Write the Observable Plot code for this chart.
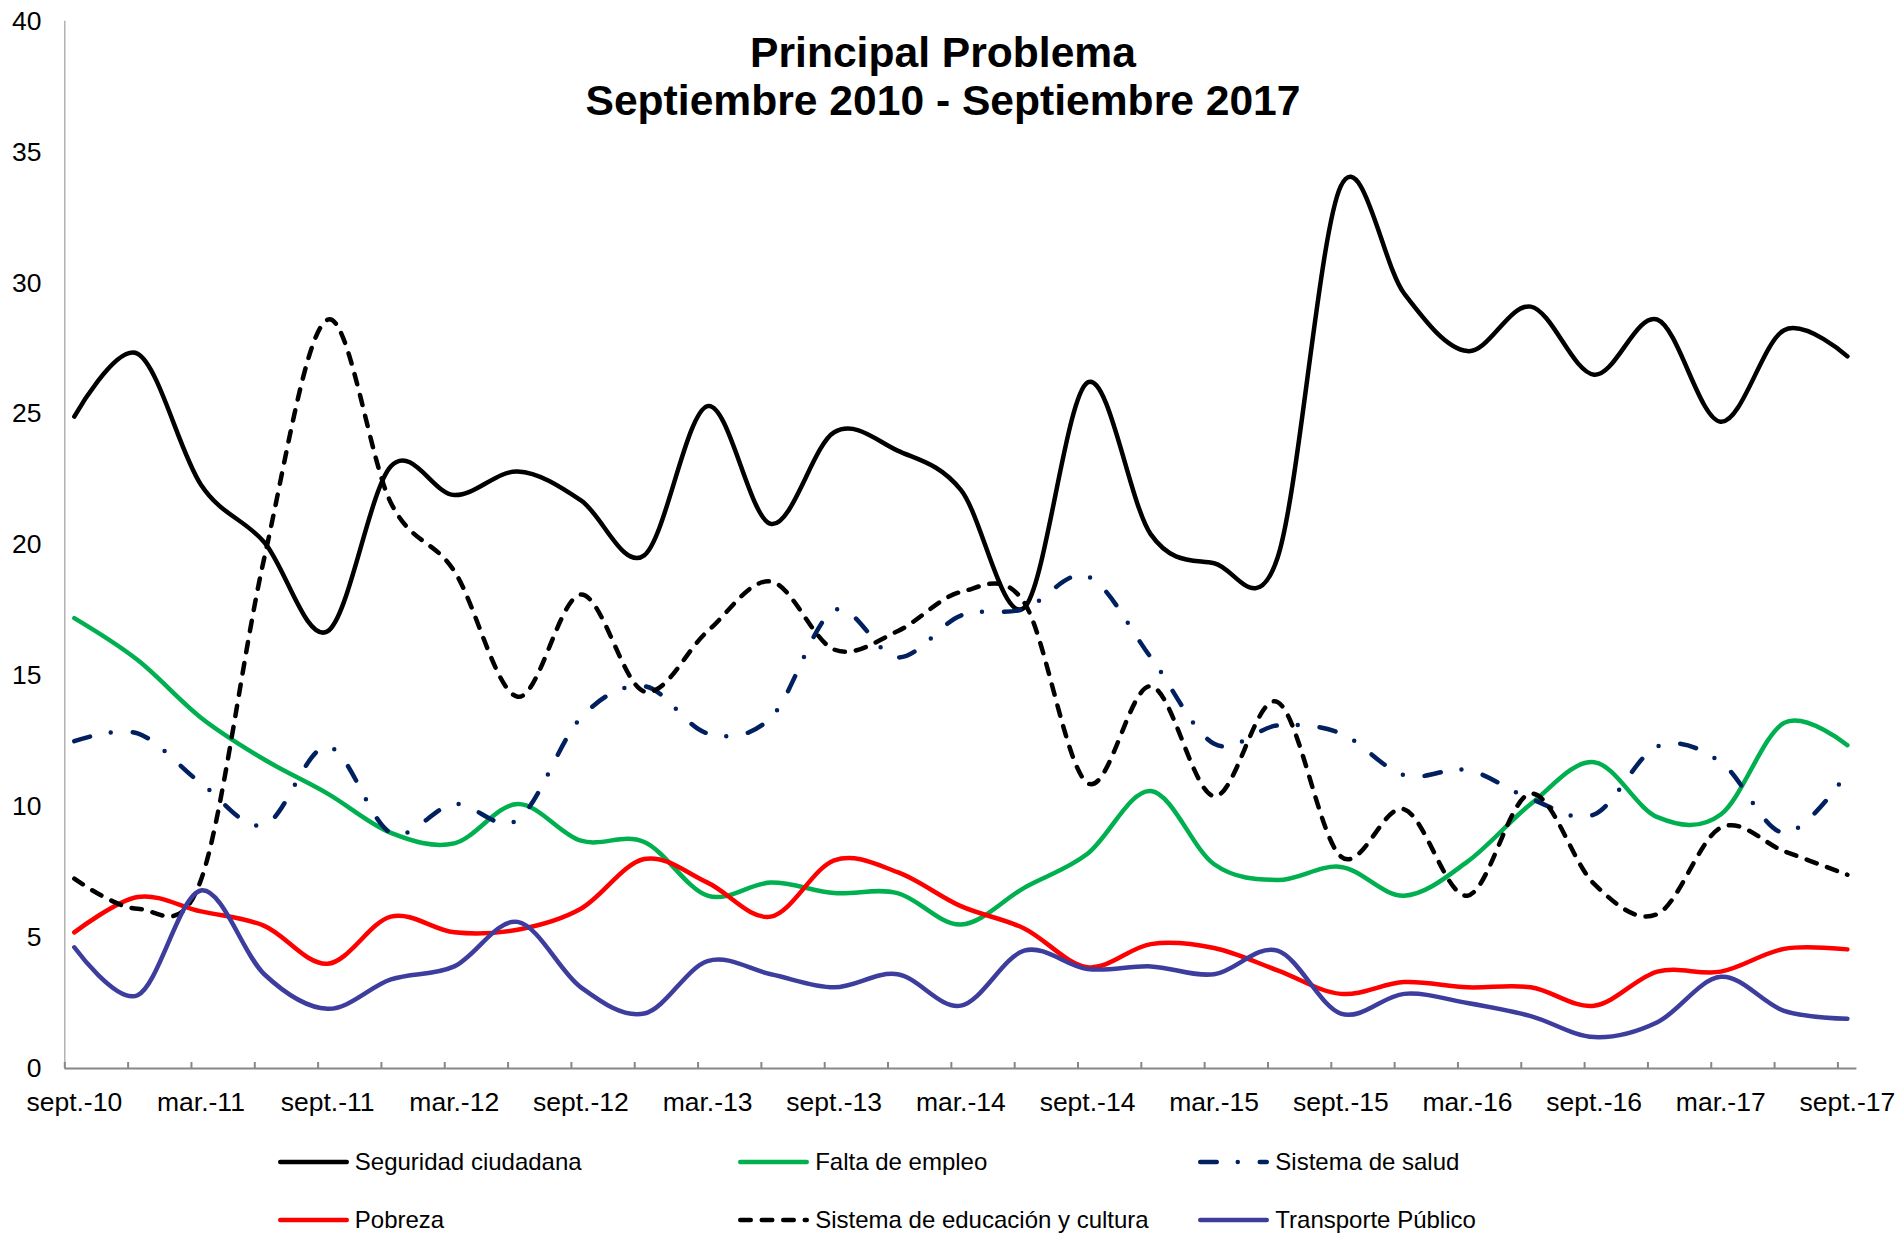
<!DOCTYPE html>
<html>
<head>
<meta charset="utf-8">
<script src="https://cdn.jsdelivr.net/npm/d3@7"></script>
<script src="https://cdn.jsdelivr.net/npm/@observablehq/plot@0.6"></script>
<style>
html, body { margin: 0; padding: 0; background: #fff; }
#wrap { position: relative; width: 1899px; height: 1234px; font-family: "Liberation Sans", Arial, sans-serif; color: #000; }
#title { position: absolute; left: 443px; width: 1000px; top: 27.5px; text-align: center; font-weight: bold; font-size: 42.6px; line-height: 48px; }
.leg { position: absolute; display: flex; align-items: center; height: 30px; font-size: 24px; white-space: nowrap; }
.leg svg { display: block; margin-right: 6px; }
</style>
</head>
<body>
<div id="wrap">
  <div id="chart"></div>
  <div id="title">Principal Problema<br>Septiembre 2010 - Septiembre 2017</div>
  <div id="legend"></div>
</div>
<script>
// ---- Data (quarterly, % of mentions) ----
const quarters = ["sept.-10","dic.-10","mar.-11","jun.-11","sept.-11","dic.-11","mar.-12","jun.-12",
  "sept.-12","dic.-12","mar.-13","jun.-13","sept.-13","dic.-13","mar.-14","jun.-14","sept.-14","dic.-14",
  "mar.-15","jun.-15","sept.-15","dic.-15","mar.-16","jun.-16","sept.-16","dic.-16","mar.-17","jun.-17","sept.-17"];

const seriesNames = ["Seguridad ciudadana","Falta de empleo","Sistema de salud","Pobreza","Sistema de educación y cultura","Transporte Público"];

const seguridad  = [24.9,27.3,22.3,20.1,16.7,23.0,21.9,22.8,21.7,19.6,25.3,20.8,24.3,23.6,22.1,17.6,26.2,20.4,19.3,19.5,33.7,29.6,27.4,29.1,26.5,28.6,24.7,28.2,27.2];
const empleo     = [17.2,15.6,13.4,11.8,10.5,9.0,8.6,10.1,8.7,8.65,6.6,7.1,6.7,6.7,5.5,6.9,8.2,10.6,7.8,7.2,7.7,6.6,7.9,10.1,11.7,9.6,9.7,13.2,12.35];
const salud      = [12.5,12.8,10.9,9.3,12.3,9.0,10.1,9.5,13.4,14.6,12.8,13.4,17.5,15.7,17.3,17.55,18.8,15.7,12.4,13.1,12.8,11.2,11.4,10.3,9.7,12.3,11.7,9.0,11.3];
const pobreza    = [5.2,6.55,6.0,5.45,4.0,5.8,5.2,5.3,6.1,8.0,7.1,5.8,7.95,7.5,6.2,5.35,3.87,4.75,4.6,3.75,2.85,3.3,3.1,3.1,2.4,3.7,3.7,4.57,4.55];
const educacion  = [7.25,6.1,7.2,19.5,28.6,21.6,19.0,14.2,18.1,14.4,16.7,18.6,16.0,16.7,18.2,17.8,10.9,14.6,10.4,14.0,8.1,9.9,6.6,10.5,7.05,5.9,9.2,8.3,7.4];
const transporte = [4.63,2.8,6.8,3.6,2.28,3.4,3.9,5.6,3.1,2.1,4.1,3.6,3.1,3.6,2.4,4.5,3.8,3.9,3.6,4.5,2.1,2.85,2.5,2.0,1.2,1.77,3.5,2.2,1.9];

const yTicks = [0,5,10,15,20,25,30,35,40];

// ---- Styling ----
const seriesValues = [seguridad, empleo, salud, pobreza, educacion, transporte];
const styles = {
  "Seguridad ciudadana":            {color: "#000000", dash: null},
  "Falta de empleo":                {color: "#00B050", dash: null},
  "Sistema de salud":               {color: "#002060", dash: "16.5,21,0,22"},
  "Pobreza":                        {color: "#FF0000", dash: null},
  "Sistema de educación y cultura": {color: "#000000", dash: "10.5,11"},
  "Transporte Público":             {color: "#3D3D9E", dash: null}
};

const rows = [];
seriesNames.forEach((name, s) => seriesValues[s].forEach((v, i) => rows.push({serie: name, q: i, v})));

const W = 1899, H = 1234;
const mLeft = 64.3, mRight = W - 1856.4, mTop = 20.7, mBottom = H - 1068;
const frameH = H - mTop - mBottom;
const xDomain = [-0.15, quarters.length - 1 + 0.15];
const tickOffset = -0.15;               // tick marks sit at month starts
const quarterIdx = quarters.map((_, i) => i);
const labelIdx = quarterIdx.filter(i => i % 2 === 0);
const lineW = 4.5;

const chart = Plot.plot({
  width: W,
  height: H,
  marginLeft: mLeft,
  marginRight: mRight,
  marginTop: mTop,
  marginBottom: mBottom,
  style: {fontFamily: '"Liberation Sans", Arial, sans-serif', fontSize: "26.5px", background: "white", color: "#000", overflow: "visible"},
  x: {type: "linear", domain: xDomain, ticks: labelIdx, tickFormat: i => quarters[i], tickSize: 0, tickPadding: 23.2, label: null},
  y: {domain: [0, 40], ticks: yTicks, tickSize: 0, tickPadding: 23.4, label: null},
  marks: [
    Plot.ruleX([xDomain[0]], {stroke: "#a6a6a6", strokeWidth: 1.3}),
    Plot.ruleY([0], {stroke: "#878787", strokeWidth: 2}),
    Plot.tickX(quarterIdx, {x: d => d + tickOffset, stroke: "#878787", strokeWidth: 2, insetTop: frameH - 6}),
    ...seriesNames.map(name => Plot.line(rows.filter(r => r.serie === name), {
      x: "q", y: "v",
      stroke: styles[name].color,
      strokeWidth: lineW,
      strokeDasharray: styles[name].dash,
      strokeLinecap: "round",
      strokeLinejoin: "round",
      curve: "cardinal",
      tension: 0
    }))
  ]
});
document.getElementById("chart").appendChild(chart);

// ---- Legend (two rows, three columns) ----
const legendLayout = [
  {name: "Seguridad ciudadana", left: 277.8, cy: 1162},
  {name: "Falta de empleo", left: 738.2, cy: 1162},
  {name: "Sistema de salud", left: 1198.3, cy: 1162},
  {name: "Pobreza", left: 277.8, cy: 1220},
  {name: "Sistema de educación y cultura", left: 738.2, cy: 1220},
  {name: "Transporte Público", left: 1198.3, cy: 1220}
];
const legend = document.getElementById("legend");
legendLayout.forEach(item => {
  const st = styles[item.name];
  const div = document.createElement("div");
  div.className = "leg";
  div.style.left = item.left + "px";
  div.style.top = (item.cy - 15) + "px";
  const sw = 71;
  div.innerHTML =
    `<svg width="${sw}" height="30"><line x1="${lineW/2}" y1="15" x2="${sw - lineW/2}" y2="15" stroke="${st.color}" stroke-width="${lineW}" stroke-linecap="round"${st.dash ? ` stroke-dasharray="${st.dash}"` : ""}/></svg><span>${item.name}</span>`;
  legend.appendChild(div);
});
</script>
</body>
</html>
